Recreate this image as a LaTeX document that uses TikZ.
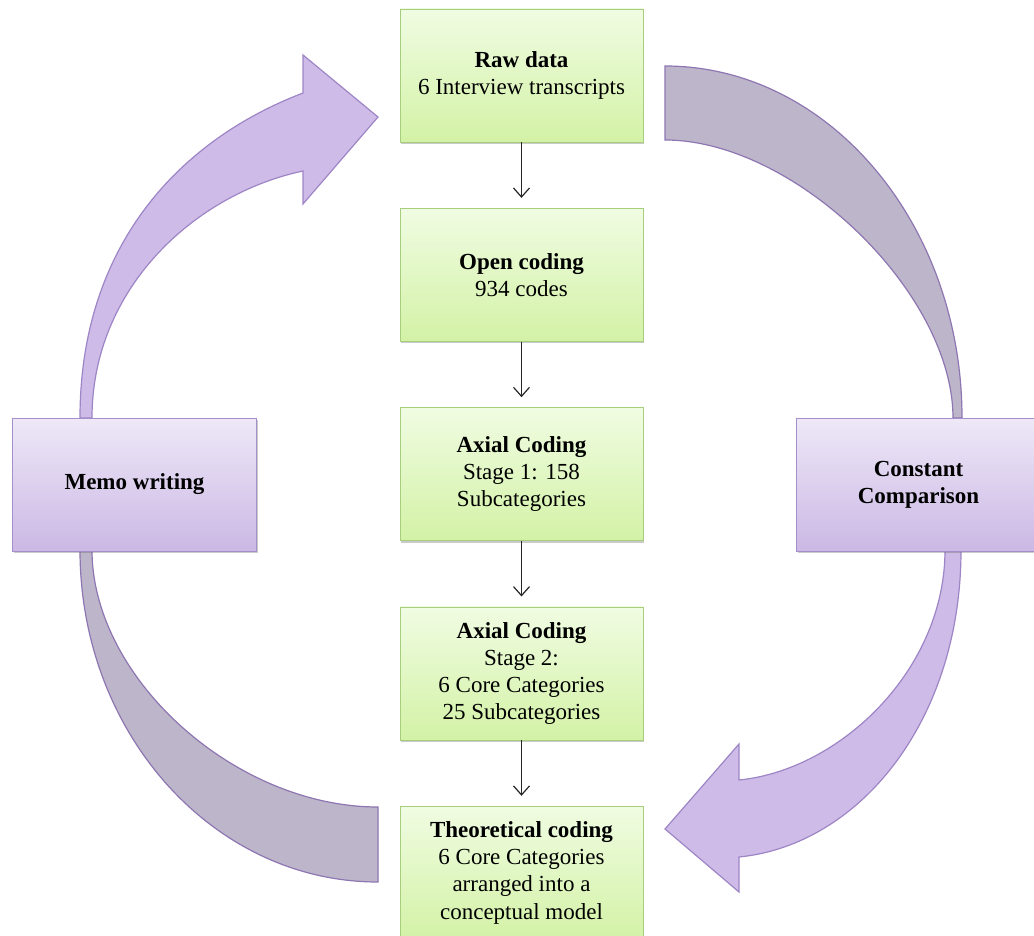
\documentclass[tikz,border=0pt]{standalone}
\usepackage{fontspec}
\setmainfont{Liberation Serif}
\usepackage{xcolor}
\usepackage{tikz}
\usetikzlibrary{positioning,arrows.meta,shadows}

\definecolor{greentop}{HTML}{F0FCE2}
\definecolor{greenbot}{HTML}{D3F2A6}
\definecolor{greenline}{HTML}{A6CE7C}
\definecolor{purptop}{HTML}{EEE8F7}
\definecolor{purpbot}{HTML}{CBB8E5}
\definecolor{purpline}{HTML}{A58FCB}
\definecolor{loopfill}{HTML}{CEBBE7}
\definecolor{loopline}{HTML}{9E86C6}
\definecolor{bandfill}{HTML}{BDB5C9}
\definecolor{bandline}{HTML}{8E76B2}

\begin{document}
\begin{tikzpicture}[
    x=0.5pt, y=-0.5pt,
    node distance=32.75pt,
    stage/.style={rectangle, draw=greenline, top color=greentop, bottom color=greenbot, minimum width=121.5pt, minimum height=66.5pt, font=\fontsize{11.5}{13.6}\selectfont, align=center, drop shadow={shadow xshift=0.6pt, shadow yshift=-1pt, opacity=0.35, fill=black!60}},
    side/.style={stage, draw=purpline, top color=purptop, bottom color=purpbot, minimum width=122pt},
    arrow/.style={-{Straight Barb[length=4.5pt,width=8pt]}, line width=0.6pt, black!85, shorten >=5pt},
    loop/.style={fill=loopfill, draw=loopline, line width=0.6pt},
    band/.style={fill=bandfill, draw=bandline, line width=0.6pt},
]
\useasboundingbox (0,0) rectangle (1034,936);

% Curved loop arrows (drawn first, boxes sit on top)
\draw[loop] (80,418) .. controls (80,245) and (180,140) .. (303,93) -- (303,55) -- (378,117) -- (303,204) -- (303,171)
    .. controls (195,194) and (92,288) .. (92,418) -- cycle;
\draw[band] (665,66) .. controls (829,66) and (962,224) .. (962,418) -- (953,418)
    .. controls (953,293) and (795,140) .. (665,140) -- cycle;
\draw[loop] (961,550) .. controls (961,720) and (860,845) .. (739,857) -- (739,892) -- (665,829) -- (739,744) -- (739,780)
    .. controls (840,770) and (945,670) .. (945,550) -- cycle;
\draw[band] (80,550) .. controls (80,733) and (213,882) .. (378,882) -- (378,807)
    .. controls (235,807) and (92,678) .. (92,550) -- cycle;

% Centre: coding stages
\node[stage] (raw) at (521.5,75.5) {\textbf{Raw data}\\6 Interview transcripts};
\node[stage, below=of raw] (open) {\textbf{Open coding}\\934 codes};
\node[stage, below=of open] (axial1) {\textbf{Axial Coding}\\Stage 1: 158\\Subcategories};
\node[stage, below=of axial1] (axial2) {\textbf{Axial Coding}\\Stage 2:\\6 Core Categories\\25 Subcategories};
\node[stage, below=of axial2] (theory) {\textbf{Theoretical coding}\\6 Core Categories\\arranged into a\\conceptual model};

% Sides
\node[side] (memo) at (134.5,484.5) {\textbf{Memo writing}};
\node[side] (compare) at (918.5,484.5) {\textbf{Constant}\\\textbf{Comparison}};

% Arrows
\draw[arrow] (raw) -- (open);
\draw[arrow] (open) -- (axial1);
\draw[arrow] (axial1) -- (axial2);
\draw[arrow] (axial2) -- (theory);

\end{tikzpicture}
\end{document}
